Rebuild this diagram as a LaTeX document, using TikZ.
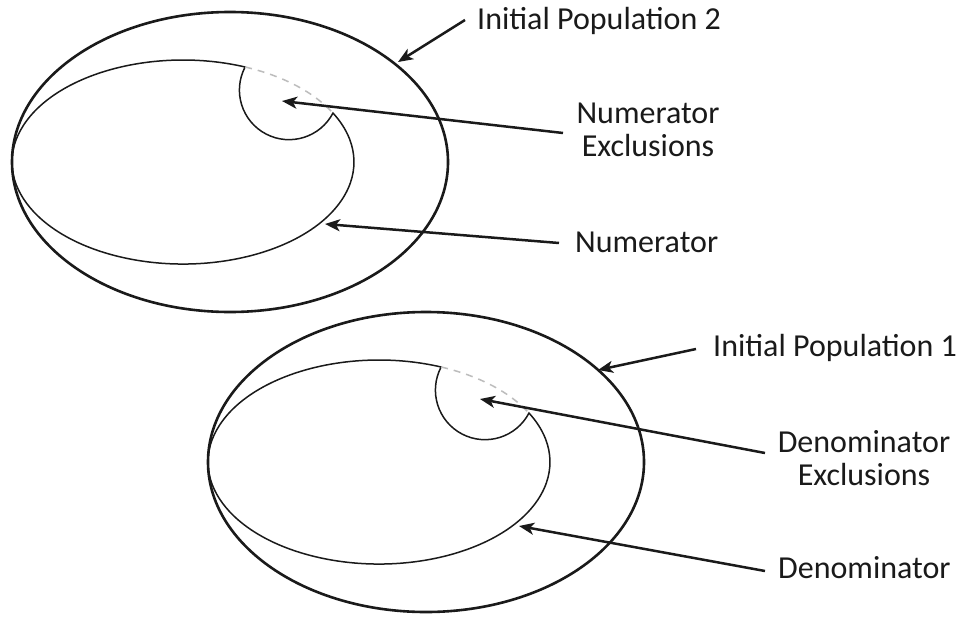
\documentclass[tikz,border=0pt]{standalone}
\usepackage{fontspec}
\setmainfont{Carlito}
\usetikzlibrary{arrows.meta}
\definecolor{ink}{HTML}{1A1A1A}
\definecolor{dashgray}{HTML}{BDBDBD}
\tikzset{
  outerell/.style={line width=2.6pt, draw=ink},
  innershape/.style={line width=1.5pt, draw=ink},
  excl/.style={line width=1.5pt, draw=dashgray, dash pattern=on 7pt off 6pt},
  arr/.style={line width=2.5pt, draw=ink, -{Stealth[length=15pt,width=12pt,inset=4pt]}},
  lbl/.style={font=\fontsize{32}{33}\selectfont, text=ink, inner sep=0pt, align=center},
}
\newcommand\drawpopshape{%
  \draw[outerell] (230,162) ellipse [x radius=218, y radius=150];
  \draw[innershape] (245.1,67.0)
    arc[start angle=-68.7, end angle=-388.7, x radius=171, y radius=102]
    arc[start angle=27.6, end angle=207.6, radius=49.6] -- cycle;
  \draw[excl] (245.1,67.0)
    arc[start angle=-68.7, end angle=-28.7, x radius=171, y radius=102];
}
\begin{document}
\begin{tikzpicture}[x=1pt,y=-1pt]
  \useasboundingbox[fill=white] (0,0) rectangle (961,616);
  % population shapes
  \drawpopshape
  \begin{scope}[shift={(196,300)}]
    \drawpopshape
  \end{scope}
  % labels
  \node[lbl, anchor=base west] (ip2) at (477,29) {Initial Population 2};
  \node[lbl, anchor=base] (nex) at (648,156) {Numerator\\Exclusions};
  \node[lbl, anchor=base west] (num) at (575,252) {Numerator};
  \node[lbl, anchor=base west] (ip1) at (713,356) {Initial Population 1};
  \node[lbl, anchor=base] (dex) at (864,485) {Denominator\\Exclusions};
  \node[lbl, anchor=base west] (den) at (778,578) {Denominator};
  % connector ends
  \coordinate (s1) at (465,20);  \coordinate (t1) at (398,62);
  \coordinate (s2) at (563,133); \coordinate (t2) at (282,101);
  \coordinate (s3) at (559,243); \coordinate (t3) at (325,224);
  \coordinate (s4) at (696,349); \coordinate (t4) at (598,370);
  \coordinate (s5) at (765,453); \coordinate (t5) at (480,399);
  \coordinate (s6) at (765,571); \coordinate (t6) at (519,526);
  \draw[arr] (s1) -- (t1);
  \draw[arr] (s2) -- (t2);
  \draw[arr] (s3) -- (t3);
  \draw[arr] (s4) -- (t4);
  \draw[arr] (s5) -- (t5);
  \draw[arr] (s6) -- (t6);
\end{tikzpicture}
\end{document}
